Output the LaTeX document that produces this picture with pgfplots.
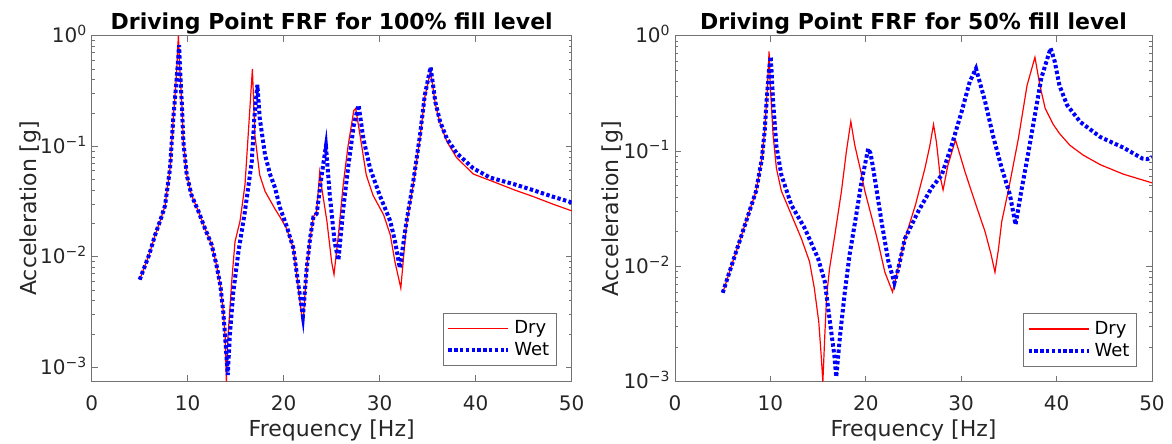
\documentclass[border=0pt]{standalone}
\usepackage{fontspec}
\setmainfont{DejaVu Sans}
\usepackage{pgfplots}
\pgfplotsset{compat=1.18}

\pgfplotsset{
  frf/.style={
    scale only axis,
    anchor=south west,
    xmin=0, xmax=50,
    xtick={0,10,20,30,40,50},
    xticklabels={0,10,20,30,40,50},
    tick pos=both,
    tick align=inside,
    major tick length=3pt,
    minor tick length=1.6pt,
    axis line style={black!55, line width=0.5pt},
    every tick/.append style={black!55, line width=0.5pt},
    every minor tick/.append style={black!55, line width=0.4pt},
    tick label style={text=black!85, font=\fontsize{10}{12}\selectfont},
    xticklabel style={inner sep=0pt, anchor=north, yshift=-7pt},
    yticklabel style={inner sep=0pt, anchor=base east, xshift=-2pt, yshift=-3.6pt},
    xlabel={Frequency [Hz]},
    ylabel={Acceleration [g]},
    every axis x label/.style={at={(axis description cs:0.5,0)}, anchor=north, yshift=-19pt,
      inner sep=0pt, text=black!85, font=\fontsize{11}{13}\selectfont},
    every axis title/.style={font=\bfseries\fontsize{11}{13}\selectfont, at={(axis description cs:0.5,1)}, anchor=base, inner sep=0pt, yshift=3pt},
    legend style={at={(axis description cs:1,0)}, anchor=south east, xshift=-7.5pt, yshift=7.5pt,
      draw=black!55, line width=0.5pt, fill=white, font=\fontsize{9}{11}\selectfont,
      inner sep=1.5pt, row sep=-1pt},
    legend cell align=left,
  },
  dry/.style={red, line width=0.6pt},
  wet/.style={blue, line width=2pt, dash pattern=on 1.7pt off 1.2pt},
}

\begin{document}
\begin{tikzpicture}
\path[use as bounding box] (0,0) rectangle (586pt,222pt);

% 100 % fill level
\begin{axis}[frf,
  ymode=log,
  at={(45.85pt,31.5pt)}, width=240pt, height=172.65pt,
  ymin=7.5e-4, ymax=1,
  ytick={1e-3,1e-2,1e-1,1},
  yticklabels={10\textsuperscript{−3},10\textsuperscript{−2},10\textsuperscript{−1},10\textsuperscript{0}},
  every axis y label/.style={at={(axis description cs:-0.104,0.5)}, rotate=90, anchor=south,
    inner sep=0pt, text=black!85, font=\fontsize{11}{13}\selectfont},
  title={Driving Point FRF for 100\% fill level},
  legend image code/.code={\draw[#1] (0pt,0pt) -- (30pt,0pt);},
]
\addplot[dry] coordinates {
(5.0,0.0062) (6.0,0.0105) (6.6,0.0157) (7.2,0.022) (7.64,0.029) (8.16,0.063)
(8.5,0.18) (8.8,0.40) (9.03,1.0) (9.2,0.45) (9.38,0.25) (9.55,0.11)
(9.9,0.055) (10.4,0.036) (11.1,0.026) (11.8,0.018) (12.5,0.0128) (13.0,0.0084)
(13.4,0.0055) (13.7,0.0032) (13.9,0.0019) (14.03,0.00074) (14.2,0.0019) (14.58,0.0059)
(14.93,0.0137) (15.45,0.021) (15.97,0.045) (16.3,0.126) (16.74,0.50) (17.0,0.126)
(17.5,0.055) (18.06,0.039) (19.1,0.027) (19.6,0.023) (20.3,0.018) (21.0,0.012)
(21.5,0.0055) (22.0,0.0024) (22.4,0.0079) (22.75,0.0147) (23.1,0.023) (23.44,0.026)
(23.75,0.058) (24.0,0.04) (24.5,0.021) (25.0,0.0089) (25.24,0.0069) (25.7,0.0158)
(26.2,0.045) (26.7,0.1) (27.3,0.21) (27.5,0.22) (27.95,0.126) (28.6,0.055)
(29.3,0.036) (30.4,0.024) (31.1,0.0158) (31.6,0.0089) (32.2,0.0052) (32.8,0.02)
(33.5,0.046) (34.2,0.12) (34.7,0.28) (35.3,0.48) (35.8,0.24) (36.3,0.16)
(37.0,0.11) (38.0,0.079) (39.75,0.056) (41.5,0.049) (44.1,0.040) (46,0.035)
(48,0.030) (50,0.026)
};
\addplot[wet] coordinates {
(5.0,0.0062) (6.0,0.0105) (6.6,0.0157) (7.2,0.022) (7.64,0.029) (8.16,0.063)
(8.5,0.18) (8.8,0.36) (9.0,0.6) (9.1,0.82) (9.2,0.5) (9.38,0.25)
(9.55,0.11) (9.9,0.055) (10.4,0.036) (11.1,0.026) (11.8,0.018) (12.5,0.0128)
(13.0,0.0084) (13.4,0.0055) (13.7,0.0032) (13.9,0.0019) (14.17,0.00085) (14.4,0.002)
(14.75,0.0048) (15.28,0.011) (15.97,0.026) (16.67,0.072) (16.94,0.18) (17.26,0.36)
(17.5,0.18) (18.06,0.083) (18.6,0.055) (19.1,0.042) (19.6,0.028) (20.3,0.019)
(21.0,0.012) (21.5,0.0058) (22.0,0.0029) (22.4,0.0079) (22.75,0.0147) (23.1,0.023)
(23.44,0.0246) (23.96,0.055) (24.4,0.1) (24.8,0.036) (25.3,0.0137) (25.7,0.0093)
(26.2,0.027) (26.7,0.063) (27.3,0.155) (27.8,0.235) (28.3,0.117) (29.0,0.063)
(30.0,0.036) (31.1,0.021) (31.6,0.0137) (32.1,0.0079) (32.8,0.021) (33.5,0.048)
(34.2,0.126) (34.7,0.29) (35.3,0.52) (35.8,0.25) (36.3,0.166) (37.0,0.117)
(38.0,0.087) (39.75,0.063) (41.5,0.052) (44.1,0.045) (46,0.040) (48,0.035) (50,0.031)
};
\legend{Dry,Wet}
\end{axis}

% 50 % fill level
\begin{axis}[frf,
  ymode=log,
  at={(337.5pt,31.15pt)}, width=238.5pt, height=173pt,
  ymin=1e-3, ymax=1,
  ytick={1e-3,1e-2,1e-1,1},
  yticklabels={10\textsuperscript{−3},10\textsuperscript{−2},10\textsuperscript{−1},10\textsuperscript{0}},
  every axis y label/.style={at={(axis description cs:-0.107,0.5)}, rotate=90, anchor=south,
    inner sep=0pt, text=black!85, font=\fontsize{11}{13}\selectfont},
  title={Driving Point FRF for 50\% fill level},
  legend image code/.code={\draw[#1] (0pt,0pt) -- (30pt,0pt);},
]
\addplot[dry] coordinates {
(5.0,0.0059) (6.3,0.0126) (7.34,0.023) (8.5,0.045) (9.1,0.085) (9.4,0.15)
(9.6,0.27) (9.75,0.45) (9.86,0.73) (10.0,0.35) (10.28,0.138) (10.63,0.071)
(11.15,0.045) (12.2,0.028) (13.25,0.0174) (14.1,0.011) (14.6,0.0065) (15.07,0.0033)
(15.3,0.0018) (15.5,0.001) (15.7,0.0025) (15.9,0.0056) (16.2,0.0096) (16.75,0.0186)
(17.45,0.045) (17.97,0.1) (18.43,0.18) (18.85,0.112) (19.4,0.071) (19.9,0.045)
(20.6,0.027) (21.3,0.016) (22.0,0.0089) (22.8,0.006) (23.3,0.009) (24.1,0.0174)
(25.2,0.034) (26.2,0.071) (26.7,0.11) (27.1,0.17) (27.4,0.12) (27.8,0.06)
(28.1,0.046) (28.6,0.075) (29.4,0.125) (30.4,0.066) (31.45,0.036) (32.5,0.02)
(33.1,0.013) (33.54,0.0089) (33.9,0.014) (34.25,0.0245) (35.0,0.048) (36.0,0.129)
(36.9,0.37) (37.73,0.65) (38.25,0.37) (38.8,0.235) (39.65,0.17) (40.3,0.142)
(41.4,0.112) (42.8,0.092) (44.6,0.076) (47,0.063) (50,0.053)
};
\addplot[wet] coordinates {
(5.0,0.0059) (6.3,0.0126) (7.34,0.023) (8.5,0.045) (9.1,0.085) (9.4,0.15)
(9.6,0.27) (9.85,0.5) (10.03,0.66) (10.15,0.45) (10.28,0.27) (10.63,0.11)
(11.15,0.062) (12.2,0.034) (13.6,0.0214) (15.0,0.0117) (15.7,0.0074) (16.2,0.0035)
(16.7,0.0017) (16.9,0.0011) (17.3,0.0025) (17.8,0.006) (18.3,0.0126) (19.0,0.028)
(19.55,0.054) (20.25,0.105) (20.5,0.095) (20.77,0.071) (21.15,0.045) (21.7,0.023)
(22.37,0.011) (23.0,0.0072) (23.4,0.0095) (24.1,0.0174) (25.5,0.03) (26.9,0.048)
(27.96,0.062) (29.0,0.112) (30.05,0.22) (30.9,0.40) (31.55,0.52) (32.5,0.27)
(33.4,0.129) (34.25,0.071) (35.1,0.042) (35.7,0.023) (36.3,0.045) (37.0,0.093)
(37.7,0.2) (38.4,0.43) (39.37,0.78) (39.8,0.6) (40.3,0.37) (41.1,0.25)
(42.5,0.178) (44.6,0.132) (47,0.107) (49,0.086) (49.5,0.085) (50,0.089)
};
\legend{Dry,Wet}
\end{axis}
\end{tikzpicture}
\end{document}
